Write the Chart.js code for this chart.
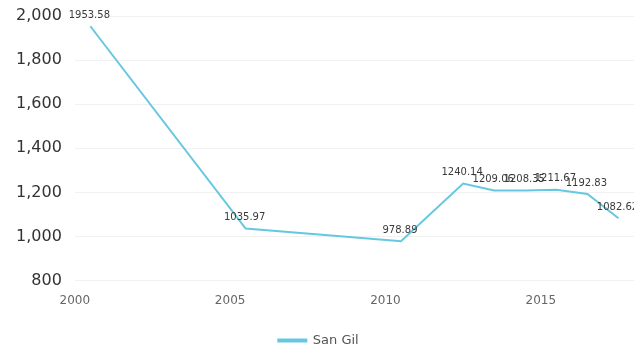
<!DOCTYPE html>
<html>
<head>
<meta charset="utf-8">
<script src="https://cdn.jsdelivr.net/npm/chart.js@4/dist/chart.umd.min.js"></script>
<style>
  html, body { margin: 0; padding: 0; background: #ffffff; overflow: hidden; }
  #wrap { width: 634px; height: 347px; }
</style>
</head>
<body>
<div id="wrap"><canvas id="c" width="634" height="347"></canvas></div>
<script>
const years = [2000.5, 2005.5, 2010.5, 2012.5, 2013.5, 2014.5, 2015.5, 2016.5, 2017.5];
const values = [1953.58, 1035.97, 978.89, 1240.14, 1209.06, 1208.35, 1211.67, 1192.83, 1082.62];
const seriesName = 'San Gil';
const yTicks = [800, 1000, 1200, 1400, 1600, 1800, 2000];
const xTicks = [2000, 2005, 2010, 2015];

const lineColor = '#66c8e0';
const FONT = "'DejaVu Sans', sans-serif";

const points = years.map((x, i) => ({ x: x, y: values[i] }));

const valueLabels = {
  id: 'valueLabels',
  afterDatasetsDraw(chart) {
    const ctx = chart.ctx;
    const meta = chart.getDatasetMeta(0);
    ctx.save();
    ctx.font = "10px " + FONT;
    ctx.fillStyle = '#3a3a3a';
    ctx.textAlign = 'center';
    ctx.textBaseline = 'bottom';
    meta.data.forEach((el, i) => {
      ctx.fillText(String(values[i]), el.x - 1, el.y - 6);
    });
    ctx.restore();
  }
};

new Chart(document.getElementById('c'), {
  type: 'line',
  data: {
    datasets: [{
      label: seriesName,
      data: points,
      borderColor: lineColor,
      backgroundColor: lineColor,
      borderWidth: 2,
      pointRadius: 0,
      pointHoverRadius: 0,
      tension: 0,
      fill: false
    }]
  },
  options: {
    responsive: false,
    animation: false,
    layout: { padding: { left: 3, right: 0, top: 16, bottom: -10 } },
    plugins: {
      legend: {
        position: 'bottom',
        labels: {
          font: { family: FONT, size: 13 },
          color: '#555555',
          boxWidth: 28,
          boxHeight: 2,
          padding: 13
        }
      },
      tooltip: { enabled: false }
    },
    scales: {
      x: {
        type: 'linear',
        min: 2000,
        max: 2018,
        afterBuildTicks(scale) { scale.ticks = xTicks.map(v => ({ value: v })); },
        ticks: {
          font: { family: FONT, size: 12 },
          color: '#666666',
          padding: 13,
          maxRotation: 0,
          callback: v => String(v)
        },
        grid: { display: false, drawTicks: false },
        border: { display: false }
      },
      y: {
        min: 800,
        max: 2000,
        afterBuildTicks(scale) { scale.ticks = yTicks.map(v => ({ value: v })); },
        afterFit(scale) { scale.paddingTop = 0; scale.paddingBottom = 0; },
        ticks: {
          font: { family: FONT, size: 16 },
          color: '#333333',
          padding: 13,
          callback: v => v.toLocaleString('en-US')
        },
        grid: { color: '#f1f1f1', drawTicks: false },
        border: { display: false }
      }
    }
  },
  plugins: [valueLabels]
});
</script>
</body>
</html>
